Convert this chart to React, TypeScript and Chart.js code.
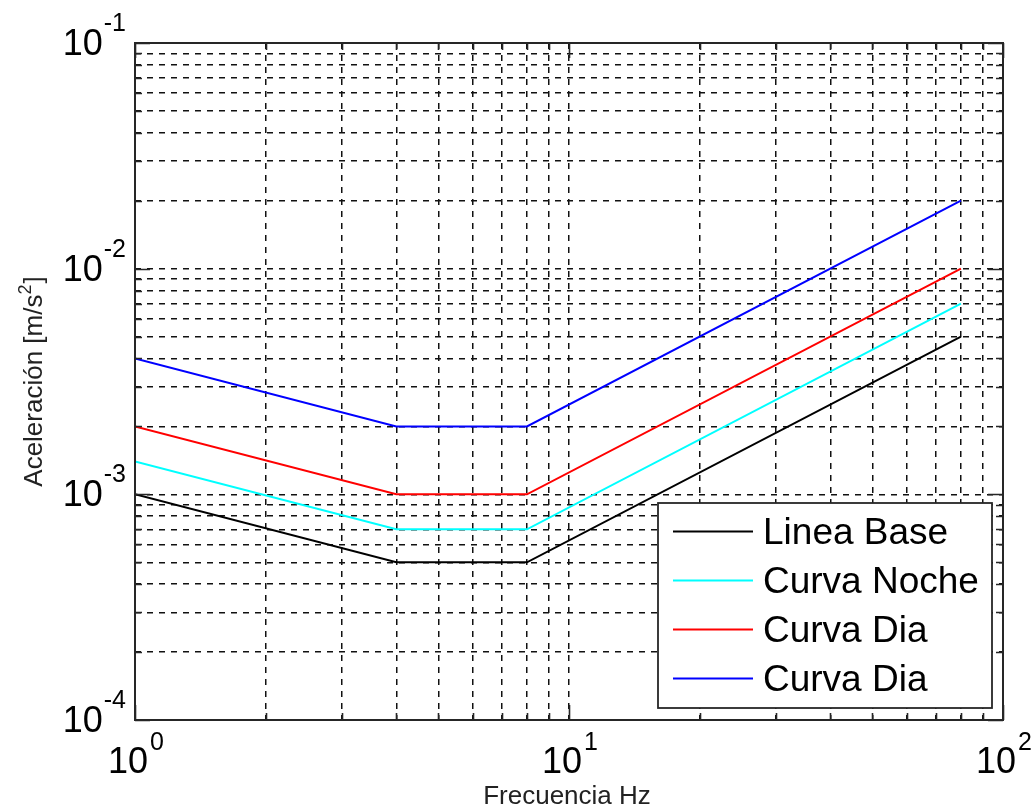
import React, { useEffect, useRef } from 'react';
import { Chart, registerables } from 'chart.js';

Chart.register(...registerables);

// ---------- data ----------
const frequencies = [1, 4, 8, 80];
const lineaBase = [1e-3, 5e-4, 5e-4, 5e-3];
const curvaNoche = [1.4e-3, 7e-4, 7e-4, 7e-3];
const curvaDia = [2e-3, 1e-3, 1e-3, 1e-2];
const curvaDiaAlta = [4e-3, 2e-3, 2e-3, 2e-2];
const seriesNames = ['Linea Base', 'Curva Noche', 'Curva Dia', 'Curva Dia'];
const seriesColors = ['#000000', '#00ffff', '#ff0000', '#0000ff'];
const seriesValues = [lineaBase, curvaNoche, curvaDia, curvaDiaAlta];

// tick labels: 10^exp
const xDecadeExps = [0, 1, 2];
const yDecadeExps = [-4, -3, -2, -1];
const xTitle = 'Frecuencia Hz';
const yTitleMain = 'Aceleración [m/s';
const yTitleSup = '2';
const yTitleEnd = ']';

const FONT = '"Liberation Sans", Arial, Helvetica, sans-serif';

function decadeTicks(exps: number[]): number[] {
  const out: number[] = [];
  for (let i = 0; i < exps.length; i++) {
    const e = exps[i];
    if (i === exps.length - 1) {
      out.push(Number(Math.pow(10, e).toPrecision(10)));
      break;
    }
    for (let k = 1; k <= 9; k++) out.push(Number((k * Math.pow(10, e)).toPrecision(10)));
  }
  return out;
}

const xTickValues = decadeTicks(xDecadeExps);
const yTickValues = decadeTicks(yDecadeExps);

function isDecade(v: number) {
  const l = Math.log10(v);
  return Math.abs(l - Math.round(l)) < 1e-9;
}

const overlayPlugin = {
  id: 'matlabOverlay',
  afterDraw(chart: any) {
    const ctx: CanvasRenderingContext2D = chart.ctx;
    const { left, right, top, bottom } = chart.chartArea;
    const xs = chart.scales.x;
    const ys = chart.scales.y;
    ctx.save();

    // inward tick marks on all four sides
    ctx.strokeStyle = '#262626';
    ctx.lineWidth = 1.6;
    ctx.setLineDash([]);
    ctx.beginPath();
    xTickValues.forEach((v) => {
      const px = Math.round(xs.getPixelForValue(v)) + 0.5;
      const len = isDecade(v) ? 15 : 7;
      ctx.moveTo(px, bottom);
      ctx.lineTo(px, bottom - len);
      ctx.moveTo(px, top);
      ctx.lineTo(px, top + len);
    });
    yTickValues.forEach((v) => {
      const py = Math.round(ys.getPixelForValue(v)) + 0.5;
      const len = isDecade(v) ? 15 : 7;
      ctx.moveTo(left, py);
      ctx.lineTo(left + len, py);
      ctx.moveTo(right, py);
      ctx.lineTo(right - len, py);
    });
    ctx.stroke();

    // frame
    ctx.lineWidth = 2;
    ctx.strokeStyle = '#262626';
    ctx.strokeRect(left, top, right - left, bottom - top);

    // legend
    const lx = 658, ly = 503, lw = 334, lh = 205;
    ctx.fillStyle = '#ffffff';
    ctx.fillRect(lx, ly, lw, lh);
    ctx.lineWidth = 1.8;
    ctx.strokeStyle = '#262626';
    ctx.strokeRect(lx, ly, lw, lh);
    ctx.font = `37px ${FONT}`;
    ctx.textBaseline = 'alphabetic';
    ctx.textAlign = 'left';
    chart.data.datasets.forEach((ds: any, i: number) => {
      const ry = 531 + i * 49;
      ctx.strokeStyle = ds.borderColor;
      ctx.lineWidth = 2;
      ctx.beginPath();
      ctx.moveTo(673, ry + 0.5);
      ctx.lineTo(753, ry + 0.5);
      ctx.stroke();
      ctx.fillStyle = '#000000';
      ctx.fillText(ds.label, 763, ry + 13);
    });

    // x tick labels 10^n
    ctx.fillStyle = '#000000';
    xDecadeExps.forEach((e) => {
      const px = xs.getPixelForValue(Math.pow(10, e));
      ctx.font = `36px ${FONT}`;
      const wBase = ctx.measureText('10').width;
      ctx.font = `25px ${FONT}`;
      const sup = String(e);
      const wSup = ctx.measureText(sup).width;
      const total = wBase + 2 + wSup;
      const x0 = px - total / 2 + 1;
      ctx.font = `36px ${FONT}`;
      ctx.textAlign = 'left';
      ctx.fillText('10', x0, bottom + 53);
      ctx.font = `25px ${FONT}`;
      ctx.fillText(sup, x0 + wBase + 2, bottom + 30);
    });

    // y tick labels 10^n (right aligned)
    yDecadeExps.forEach((e) => {
      const py = ys.getPixelForValue(Math.pow(10, e));
      const sup = String(e);
      ctx.font = `25px ${FONT}`;
      const wSup = ctx.measureText(sup).width;
      ctx.font = `36px ${FONT}`;
      const wBase = ctx.measureText('10').width;
      const xr = 126;
      const xSup = xr - wSup;
      const xBase = xSup - 1 - wBase;
      ctx.textAlign = 'left';
      ctx.fillText('10', xBase, py + 12);
      ctx.font = `25px ${FONT}`;
      ctx.fillText(sup, xSup, py - 12);
    });

    // x title
    ctx.font = `26px ${FONT}`;
    ctx.fillStyle = '#222222';
    ctx.textAlign = 'center';
    ctx.fillText(xTitle, 567, 804);

    // y title (rotated)
    ctx.save();
    ctx.translate(42, (top + bottom) / 2);
    ctx.rotate(-Math.PI / 2);
    ctx.textAlign = 'left';
    ctx.font = `26px ${FONT}`;
    const wMain = ctx.measureText(yTitleMain).width;
    const wEnd = ctx.measureText(yTitleEnd).width;
    ctx.font = `18px ${FONT}`;
    const wS = ctx.measureText(yTitleSup).width;
    const totalW = wMain + wS + 1 + wEnd;
    let cx = -totalW / 2;
    ctx.font = `26px ${FONT}`;
    ctx.fillText(yTitleMain, cx, 0);
    cx += wMain;
    ctx.font = `18px ${FONT}`;
    ctx.fillText(yTitleSup, cx, -11);
    cx += wS + 1;
    ctx.font = `26px ${FONT}`;
    ctx.fillText(yTitleEnd, cx, 0);
    ctx.restore();

    ctx.restore();
  },
};

export default function App() {
  const canvasRef = useRef<HTMLCanvasElement | null>(null);

  useEffect(() => {
    if (!canvasRef.current) return;
    const datasets = seriesValues.map((vals, i) => ({
      label: seriesNames[i],
      data: frequencies.map((f, j) => ({ x: f, y: vals[j] })),
      borderColor: seriesColors[i],
      backgroundColor: seriesColors[i],
      borderWidth: 2,
      pointRadius: 0,
      showLine: true,
      fill: false,
      tension: 0,
    }));

    const chart = new Chart(canvasRef.current, {
      type: 'scatter',
      data: { datasets },
      options: {
        animation: false,
        responsive: false,
        devicePixelRatio: 1,
        layout: { padding: { left: 135, right: 33, top: 43, bottom: 91 } },
        plugins: { legend: { display: false }, tooltip: { enabled: false } },
        scales: {
          x: {
            type: 'logarithmic',
            min: 1,
            max: 100,
            afterBuildTicks: (scale: any) => {
              scale.ticks = xTickValues.map((v) => ({ value: v, major: isDecade(v) }));
            },
            afterFit: (scale: any) => {
              scale.height = 0;
            },
            ticks: { display: false },
            grid: { display: true, color: '#111111', lineWidth: 1.5, drawTicks: false },
            border: { display: false, dash: [6, 6] },
            title: { display: false },
          },
          y: {
            type: 'logarithmic',
            min: 1e-4,
            max: 1e-1,
            afterBuildTicks: (scale: any) => {
              scale.ticks = yTickValues.map((v) => ({ value: v, major: isDecade(v) }));
            },
            afterFit: (scale: any) => {
              scale.width = 0;
            },
            ticks: { display: false },
            grid: { display: true, color: '#111111', lineWidth: 1.5, drawTicks: false },
            border: { display: false, dash: [6, 6] },
            title: { display: false },
          },
        },
      },
      plugins: [overlayPlugin],
    } as any);

    return () => chart.destroy();
  }, []);

  return (
    <div style={{ position: 'absolute', left: 0, top: 0, width: 1036, height: 811, background: '#ffffff' }}>
      <canvas ref={canvasRef} width={1036} height={811} style={{ display: 'block', width: 1036, height: 811 }} />
    </div>
  );
}
